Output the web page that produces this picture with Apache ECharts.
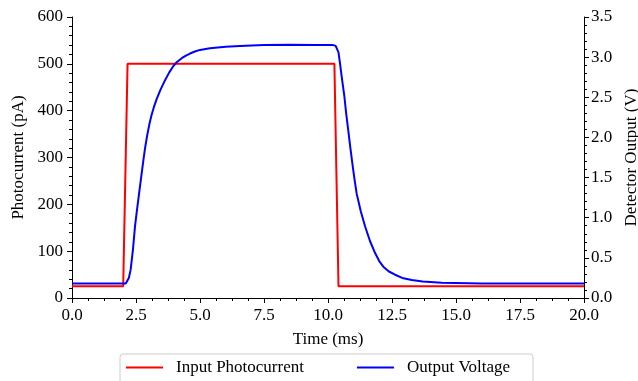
<!DOCTYPE html>
<html>
<head>
<meta charset="utf-8">
<script src="https://cdn.jsdelivr.net/npm/echarts@6/dist/echarts.min.js"></script>
<style>
  html, body { margin: 0; padding: 0; background: #fff; }
  #chart { width: 638px; height: 381px; }
</style>
</head>
<body>
<div id="chart"></div>
<script>
// input photocurrent (pA) vs time (ms)
const currentTime = [0, 2.0, 2.17, 10.25, 10.41, 20];
const currentValues = [25, 25, 500, 500, 25, 25];

// detector output (V) vs time (ms)
const voltageTime = [0, 2.0, 2.1, 2.16, 2.22, 2.29, 2.38, 2.46, 2.54, 2.62, 2.7, 2.79, 2.86, 2.94, 3.02, 3.1, 3.2, 3.31, 3.45, 3.63, 3.8, 3.96, 4.1, 4.3, 4.45, 4.61, 4.8, 5.0, 5.39, 6.0, 6.56, 7.5, 8.5, 9.5, 10.2, 10.3, 10.36, 10.41, 10.47, 10.55, 10.64, 10.71, 10.79, 10.87, 10.95, 11.03, 11.12, 11.28, 11.45, 11.64, 11.84, 12.0, 12.16, 12.38, 12.62, 12.9, 13.27, 13.7, 14.44, 16, 20];
const voltageValues = [0.18, 0.18, 0.18, 0.2, 0.25, 0.35, 0.6, 0.89, 1.1, 1.30, 1.50, 1.72, 1.88, 2.03, 2.16, 2.27, 2.38, 2.48, 2.59, 2.71, 2.81, 2.89, 2.94, 2.99, 3.02, 3.045, 3.07, 3.09, 3.11, 3.13, 3.14, 3.15, 3.155, 3.15, 3.15, 3.14, 3.12, 3.06, 2.92, 2.72, 2.51, 2.30, 2.09, 1.88, 1.68, 1.49, 1.30, 1.08, 0.89, 0.71, 0.56, 0.46, 0.39, 0.33, 0.29, 0.25, 0.224, 0.205, 0.19, 0.18, 0.18];

const font = "'Liberation Serif', 'DejaVu Serif', serif";
const fontSize = 17;

const chart = echarts.init(document.getElementById("chart"));

const axisCommon = {
    splitLine: { show: false },
    axisLine: { show: true, onZero: false, lineStyle: { color: "#000", width: 1 } },
    axisTick: { show: true, inside: false, length: 5, lineStyle: { color: "#000", width: 1 } },
    minorTick: { show: true, length: 3, lineStyle: { color: "#000", width: 1 } },
    nameTextStyle: { color: "#000", fontFamily: font, fontSize: fontSize },
    nameLocation: "middle"
};

chart.setOption({
    animation: false,
    grid: {
        left: 72,
        right: 54,
        top: 17,
        bottom: 83,
        outerBoundsMode: "none",
        containLabel: false
    },
    legend: {
        top: 354,
        left: 120,
        icon: "rect",
        itemWidth: 37,
        itemHeight: 2,
        itemGap: 53,
        padding: [5, 23, 10, 6],
        borderColor: "#ccc",
        borderWidth: 1,
        borderRadius: 3,
        textStyle: { color: "#000", fontFamily: font, fontSize: fontSize, padding: [0, 0, 0, 8] },
        data: ["Input Photocurrent", "Output Voltage"]
    },
    xAxis: {
        ...axisCommon,
        type: "value",
        name: "Time (ms)",
        nameGap: 33,
        min: 0,
        max: 20,
        interval: 2.5,
        minorTick: { ...axisCommon.minorTick, splitNumber: 4 },
        axisLabel: {
            color: "#000", fontFamily: font, fontSize: fontSize, margin: 9,
            formatter: v => v.toFixed(1)
        }
    },
    yAxis: [
        {
            ...axisCommon,
            type: "value",
            name: "Photocurrent (pA)",
            nameGap: 44,
            nameRotate: 90,
            min: 0,
            max: 600,
            interval: 100,
            minorTick: { ...axisCommon.minorTick, splitNumber: 5 },
            axisLabel: { color: "#000", fontFamily: font, fontSize: fontSize, margin: 9 }
        },
        {
            ...axisCommon,
            type: "value",
            position: "right",
            name: "Detector Output (V)",
            nameGap: 38,
            nameRotate: 90,
            min: 0,
            max: 3.5,
            interval: 0.5,
            minorTick: { ...axisCommon.minorTick, splitNumber: 5 },
            axisLabel: {
                color: "#000", fontFamily: font, fontSize: fontSize, margin: 7,
                formatter: v => v.toFixed(1)
            }
        }
    ],
    series: [
        {
            name: "Input Photocurrent",
            type: "line",
            yAxisIndex: 0,
            showSymbol: false,
            symbol: "none",
            color: "#ff0000",
            lineStyle: { color: "#ff0000", width: 2 },
            data: currentTime.map((t, i) => [t, currentValues[i]])
        },
        {
            name: "Output Voltage",
            type: "line",
            yAxisIndex: 1,
            showSymbol: false,
            symbol: "none",
            color: "#0000ff",
            lineStyle: { color: "#0000ff", width: 2 },
            data: voltageTime.map((t, i) => [t, voltageValues[i]])
        }
    ]
});
</script>
</body>
</html>
